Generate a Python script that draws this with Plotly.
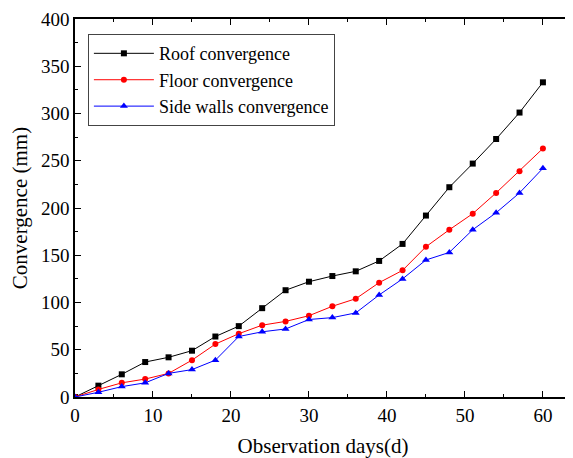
import plotly.graph_objects as go

days = [0, 3, 6, 9, 12, 15, 18, 21, 24, 27, 30, 33, 36, 39, 42, 45, 48, 51, 54, 57, 60]
roof = [0, 12, 24, 37, 42, 49, 64, 75, 94, 113, 122, 128, 133, 144, 162, 192, 222, 247, 273, 301, 333]
floor = [0, 8, 15, 19, 25, 39, 56, 67, 76, 80, 86, 96, 104, 121, 134, 159, 177, 194, 216, 239, 263]
side_walls = [0, 5, 11, 15, 25, 29, 39, 64, 69, 72, 82, 84, 89, 108, 125, 145, 153, 177, 195, 216, 242]

FONT = "Liberation Serif"

fig = go.Figure()
series = [
    ("Roof convergence", roof, "black", "square", 6),
    ("Floor convergence", floor, "red", "circle", 6),
    ("Side walls convergence", side_walls, "blue", "triangle-up", 7),
]
for name, vals, color, sym, size in series:
    fig.add_trace(go.Scatter(
        x=days, y=vals, name=name, mode="lines+markers",
        line=dict(color=color, width=1),
        marker=dict(symbol=sym, size=size, color=color),
    ))

axis_common = dict(
    showline=True, linecolor="black", linewidth=1.5, mirror="ticks",
    ticks="inside", ticklen=6, tickcolor="black", tickwidth=1,
    showgrid=False, zeroline=False, automargin=False,
    tickfont=dict(family=FONT, size=19, color="black"),
)

fig.update_xaxes(
    range=[0, 63.6], tick0=0, dtick=10,
    minor=dict(ticks="inside", ticklen=3, dtick=5, tickcolor="black"),
    title=dict(text="Observation days(d)", font=dict(family=FONT, size=21, color="black"), standoff=18),
    **axis_common,
)
fig.update_yaxes(
    range=[0, 400], tick0=0, dtick=50,
    minor=dict(ticks="inside", ticklen=3, dtick=25, tickcolor="black"),
    title=dict(text="Convergence (mm)", font=dict(family=FONT, size=21, color="black"), standoff=10),
    **axis_common,
)

# page body adds an 8px margin, so the figure is sized to fit inside the window
fig.update_layout(
    width=565, height=450,
    margin=dict(l=67, r=2, t=11, b=61),
    plot_bgcolor="white", paper_bgcolor="white",
    font=dict(family=FONT, color="black"),
    legend=dict(
        x=0.026, y=0.96, xanchor="left", yanchor="top",
        bgcolor="white", bordercolor="#444", borderwidth=1,
        font=dict(family=FONT, size=18, color="black"),
        itemwidth=60, tracegroupgap=0,
    ),
)

fig.write_html("out.html")
